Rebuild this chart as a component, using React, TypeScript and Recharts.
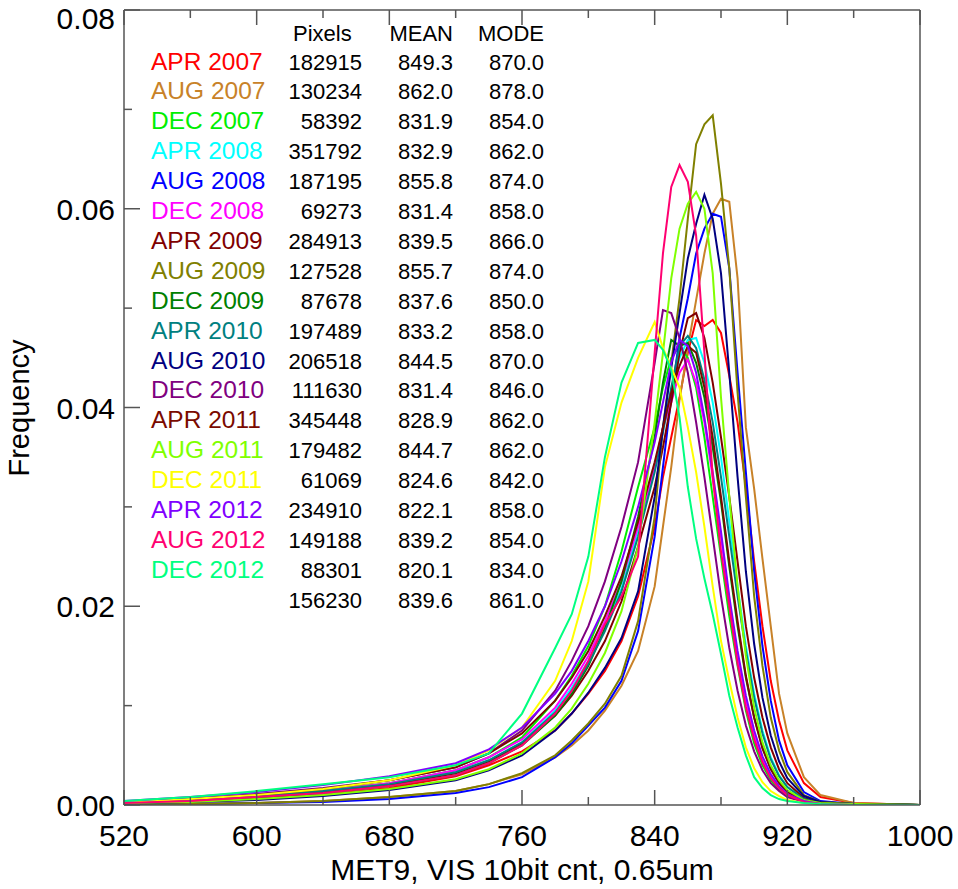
import React from "react"
import { LineChart, Line, XAxis, YAxis } from "recharts"

// VIS count bins (x) shared by every series
const COUNTS = [520, 560, 600, 640, 680, 720, 740, 760, 780, 790, 800, 810, 820, 830, 840, 845, 850, 855, 860, 865, 870, 875, 880, 885, 890, 895, 900, 905, 910, 915, 920, 930, 940, 960, 1000]

const APR_2007 = [.0001, .0003, .0006, .001, .0017, .0029, .004, .0054, .0075, .0092, .0112, .0135, .0165, .021, .028, .033, .037, .041, .0455, .0488, .0482, .0488, .0475, .0432, .0385, .032, .0245, .018, .0125, .0085, .0055, .0022, .0008, .0002, 0]
const AUG_2007 = [.0001, .0001, .0002, .0004, .0008, .0014, .0021, .0031, .0048, .006, .0075, .0095, .012, .0155, .022, .028, .034, .0408, .046, .0508, .0555, .0595, .061, .0607, .053, .038, .0318, .0248, .018, .0112, .0072, .0028, .001, .0002, 0]
const DEC_2007 = [.0003, .0006, .001, .0015, .0022, .0035, .0048, .0068, .0105, .013, .016, .02, .0255, .032, .038, .042, .045, .0462, .045, .042, .037, .031, .025, .019, .014, .0095, .0062, .004, .0025, .0015, .001, .0004, .0002, .0001, 0]
const APR_2008 = [.0002, .0005, .0009, .0014, .0021, .0033, .0045, .0063, .0095, .0118, .0145, .0178, .0218, .0275, .034, .038, .0418, .045, .0468, .047, .0445, .0405, .035, .0285, .022, .016, .0112, .0075, .0048, .003, .0018, .0006, .0002, .0001, 0]
const AUG_2008 = [.0001, .0001, .0002, .0003, .0006, .0012, .0018, .0028, .0048, .0062, .008, .0098, .0125, .0175, .027, .034, .041, .047, .051, .0555, .058, .0595, .0592, .054, .0435, .0335, .0235, .016, .0105, .0065, .004, .0013, .0004, .0001, 0]
const DEC_2008 = [.0002, .0005, .0009, .0014, .0022, .0035, .0048, .0066, .0098, .0122, .015, .0185, .0225, .028, .034, .038, .0405, .0435, .0448, .0425, .0385, .033, .027, .0205, .015, .0105, .007, .0045, .0028, .0017, .001, .0004, .0001, 0, 0]
const APR_2009 = [.0002, .0004, .0008, .0013, .002, .0032, .0044, .0062, .009, .011, .0135, .0165, .0205, .026, .032, .036, .0405, .0455, .049, .0495, .047, .0425, .037, .031, .0245, .018, .0128, .0088, .0058, .0036, .0022, .0007, .0002, .0001, 0]
const AUG_2009 = [.0001, .0001, .0002, .0004, .0008, .0014, .0021, .0032, .005, .0065, .0082, .0102, .013, .0185, .029, .038, .0445, .051, .059, .0665, .0685, .0694, .0625, .054, .0415, .031, .021, .014, .0088, .0055, .0033, .001, .0003, .0001, 0]
const DEC_2009 = [.0002, .0004, .0007, .0012, .0019, .003, .0042, .006, .009, .0112, .014, .0178, .0225, .029, .037, .0425, .0468, .0462, .0465, .0445, .041, .036, .0305, .024, .018, .0128, .0088, .0058, .0037, .0023, .0014, .0005, .0002, .0001, 0]
const APR_2010 = [.0002, .0005, .0009, .0014, .0021, .0033, .0045, .0063, .0093, .0115, .0142, .0175, .0215, .027, .0335, .0375, .042, .0462, .0472, .046, .0428, .0385, .033, .027, .021, .0155, .0108, .0072, .0046, .0029, .0018, .0006, .0002, .0001, 0]
const AUG_2010 = [.0001, .0003, .0005, .0009, .0015, .0025, .0035, .005, .0075, .0092, .0113, .0138, .0168, .0215, .031, .038, .044, .0495, .055, .0585, .0614, .059, .0535, .0435, .033, .0235, .0162, .0108, .007, .0044, .0027, .0009, .0003, .0001, 0]
const DEC_2010 = [.0003, .0006, .0011, .0017, .0025, .0038, .0052, .0075, .0115, .0145, .018, .0225, .028, .0345, .0445, .0498, .0495, .047, .0435, .0385, .033, .027, .021, .0158, .0115, .008, .0054, .0035, .0022, .0014, .0008, .0003, .0001, 0, 0]
const APR_2011 = [.0003, .0006, .001, .0016, .0025, .0038, .0052, .0072, .0105, .0128, .0155, .019, .023, .0285, .0345, .038, .0415, .0442, .0462, .0455, .042, .037, .031, .0245, .0185, .013, .0088, .0057, .0036, .0022, .0013, .0005, .0002, .0001, 0]
const AUG_2011 = [.0002, .0003, .0006, .001, .0016, .0026, .0036, .0052, .0078, .0097, .0122, .0153, .0195, .026, .0385, .0455, .053, .058, .0605, .0617, .06, .0535, .041, .031, .022, .015, .0098, .0063, .004, .0025, .0015, .0005, .0002, .0001, 0]
const DEC_2011 = [.0003, .0006, .001, .0016, .0025, .004, .0055, .0078, .0125, .0165, .0225, .034, .0405, .045, .0486, .046, .044, .042, .038, .0335, .028, .022, .0165, .0125, .0088, .0058, .0037, .0023, .0014, .0009, .0005, .0002, .0001, 0, 0]
const APR_2012 = [.0004, .0008, .0013, .002, .0029, .0042, .0056, .0078, .0112, .0135, .0165, .02, .0245, .03, .0365, .0405, .0445, .0468, .0462, .0435, .039, .0335, .0275, .021, .0155, .011, .0075, .0049, .0031, .0019, .0011, .0004, .0001, 0, 0]
const AUG_2012 = [.0002, .0004, .0008, .0012, .0019, .003, .0042, .006, .0092, .0115, .0145, .0182, .021, .025, .0455, .0555, .0622, .0644, .0627, .0573, .0455, .033, .0255, .02, .0142, .0098, .0066, .0043, .0027, .0017, .001, .0003, .0001, 0, 0]
const DEC_2012 = [.0004, .0008, .0014, .0021, .0028, .004, .0052, .0092, .0158, .0192, .025, .035, .0425, .0465, .0468, .0458, .0438, .039, .032, .0268, .0228, .0192, .0152, .011, .0078, .005, .0028, .0017, .001, .0006, .0004, .0002, .0001, 0, 0]

const LABELS = ["APR 2007", "AUG 2007", "DEC 2007", "APR 2008", "AUG 2008", "DEC 2008", "APR 2009", "AUG 2009", "DEC 2009", "APR 2010", "AUG 2010", "DEC 2010", "APR 2011", "AUG 2011", "DEC 2011", "APR 2012", "AUG 2012", "DEC 2012"]
const COLORS = ["#ff0000", "#c88228", "#00ee00", "#00ffff", "#0000ff", "#ff00ff", "#800000", "#808000", "#008000", "#008080", "#000080", "#800080", "#7a0a00", "#80ff00", "#ffff00", "#8000ff", "#ff0070", "#00ff80"]
const VALUES = [APR_2007, AUG_2007, DEC_2007, APR_2008, AUG_2008, DEC_2008, APR_2009, AUG_2009, DEC_2009, APR_2010, AUG_2010, DEC_2010, APR_2011, AUG_2011, DEC_2011, APR_2012, AUG_2012, DEC_2012]

// table rows (last row is the total, no label)
const PIXELS = ["182915", "130234", "58392", "351792", "187195", "69273", "284913", "127528", "87678", "197489", "206518", "111630", "345448", "179482", "61069", "234910", "149188", "88301", "156230"]
const MEANS = ["849.3", "862.0", "831.9", "832.9", "855.8", "831.4", "839.5", "855.7", "837.6", "833.2", "844.5", "831.4", "828.9", "844.7", "824.6", "822.1", "839.2", "820.1", "839.6"]
const MODES = ["870.0", "878.0", "854.0", "862.0", "874.0", "858.0", "866.0", "874.0", "850.0", "858.0", "870.0", "846.0", "862.0", "862.0", "842.0", "858.0", "854.0", "834.0", "861.0"]

const X_TICKS = [520, 560, 600, 640, 680, 720, 760, 800, 840, 880, 920, 960, 1000]
const Y_TICKS = [0, 0.01, 0.02, 0.03, 0.04, 0.05, 0.06, 0.07, 0.08]

const data = COUNTS.map((x, i) => {
  const row: Record<string, number> = { x }
  VALUES.forEach((v, k) => (row["s" + k] = v[i]))
  return row
})

const W = 958
const H = 889
const FONT = "'Liberation Sans', Arial, Helvetica, sans-serif"
const AXIS = "#555"

const isMajorX = (v: number) => (v - 520) % 80 === 0
const isMajorY = (v: number) => Math.round(v * 100) % 2 === 0

// tick marks point into the plot, like the IDL original
function BottomTick({ x, y, payload }: any) {
  const major = isMajorX(payload.value)
  return (
    <g>
      <line x1={x} x2={x} y1={y} y2={y - (major ? 15 : 8)} stroke={AXIS} strokeWidth={1.5} />
      {major && (
        <text x={x} y={y + 41} textAnchor="middle" fontSize={30} fontFamily={FONT} fill="#000">
          {payload.value}
        </text>
      )}
    </g>
  )
}

function TopTick({ x, y, payload }: any) {
  const major = isMajorX(payload.value)
  return <line x1={x} x2={x} y1={y} y2={y + (major ? 15 : 8)} stroke={AXIS} strokeWidth={1.5} />
}

function LeftTick({ x, y, payload }: any) {
  const major = isMajorY(payload.value)
  // the top label sits a bit lower so it stays inside the picture
  const dy = payload.value >= 0.08 ? 19 : 11
  return (
    <g>
      <line x1={x} x2={x + (major ? 16 : 8)} y1={y} y2={y} stroke={AXIS} strokeWidth={1.5} />
      {major && (
        <text x={x - 9} y={y + dy} textAnchor="end" fontSize={30} fontFamily={FONT} fill="#000">
          {payload.value.toFixed(2)}
        </text>
      )}
    </g>
  )
}

function RightTick({ x, y, payload }: any) {
  const major = isMajorY(payload.value)
  return <line x1={x} x2={x - (major ? 16 : 8)} y1={y} y2={y} stroke={AXIS} strokeWidth={1.5} />
}

const ROW0 = 61
const ROW_STEP = 29.9

export default function App() {
  return (
    <div style={{ position: "absolute", left: 0, top: 0, width: W, height: H, background: "#fff" }}>
      <LineChart width={W} height={H} data={data} margin={{ top: 9, right: 37, bottom: 83, left: 123 }}>
        <XAxis
          dataKey="x"
          type="number"
          domain={[520, 1000]}
          ticks={X_TICKS}
          interval={0}
          height={1}
          tickSize={0}
          tickMargin={0}
          tick={BottomTick}
          axisLine={{ stroke: AXIS, strokeWidth: 1.5 }}
        />
        <XAxis
          xAxisId="top"
          orientation="top"
          dataKey="x"
          type="number"
          domain={[520, 1000]}
          ticks={X_TICKS}
          interval={0}
          height={1}
          tickSize={0}
          tickMargin={0}
          tick={TopTick}
          axisLine={{ stroke: AXIS, strokeWidth: 1.5 }}
        />
        <YAxis
          type="number"
          domain={[0, 0.08]}
          ticks={Y_TICKS}
          interval={0}
          width={1}
          tickSize={0}
          tickMargin={0}
          tick={LeftTick}
          axisLine={{ stroke: AXIS, strokeWidth: 1.5 }}
          allowDataOverflow
        />
        <YAxis
          yAxisId="right"
          orientation="right"
          type="number"
          domain={[0, 0.08]}
          ticks={Y_TICKS}
          interval={0}
          width={1}
          tickSize={0}
          tickMargin={0}
          tick={RightTick}
          axisLine={{ stroke: AXIS, strokeWidth: 1.5 }}
        />
        {VALUES.map((_, k) => (
          <Line
            key={k}
            type="linear"
            dataKey={"s" + k}
            stroke={COLORS[k]}
            strokeWidth={2}
            dot={false}
            activeDot={false}
            isAnimationActive={false}
          />
        ))}
      </LineChart>
      <svg width={W} height={H} style={{ position: "absolute", left: 0, top: 0, pointerEvents: "none" }} fontFamily={FONT}>
        <text x={522} y={880} textAnchor="middle" fontSize={30} fill="#000">
          MET9, VIS 10bit cnt, 0.65um
        </text>
        <text x={29} y={408} textAnchor="middle" fontSize={29} fill="#000" transform="rotate(-90 29 408)">
          Frequency
        </text>
        <text x={293} y={41} fontSize={22} fill="#000">Pixels</text>
        <text x={453} y={41} fontSize={22} fill="#000" textAnchor="end">MEAN</text>
        <text x={544} y={41} fontSize={22} fill="#000" textAnchor="end">MODE</text>
        {PIXELS.map((p, i) => {
          const y = ROW0 + i * ROW_STEP + 8.5
          return (
            <g key={i}>
              {LABELS[i] && (
                <text x={151} y={y} fontSize={24.5} fill={COLORS[i]}>
                  {LABELS[i]}
                </text>
              )}
              <text x={362} y={y} fontSize={22} fill="#000" textAnchor="end">{p}</text>
              <text x={453} y={y} fontSize={22} fill="#000" textAnchor="end">{MEANS[i]}</text>
              <text x={544} y={y} fontSize={22} fill="#000" textAnchor="end">{MODES[i]}</text>
            </g>
          )
        })}
      </svg>
    </div>
  )
}
